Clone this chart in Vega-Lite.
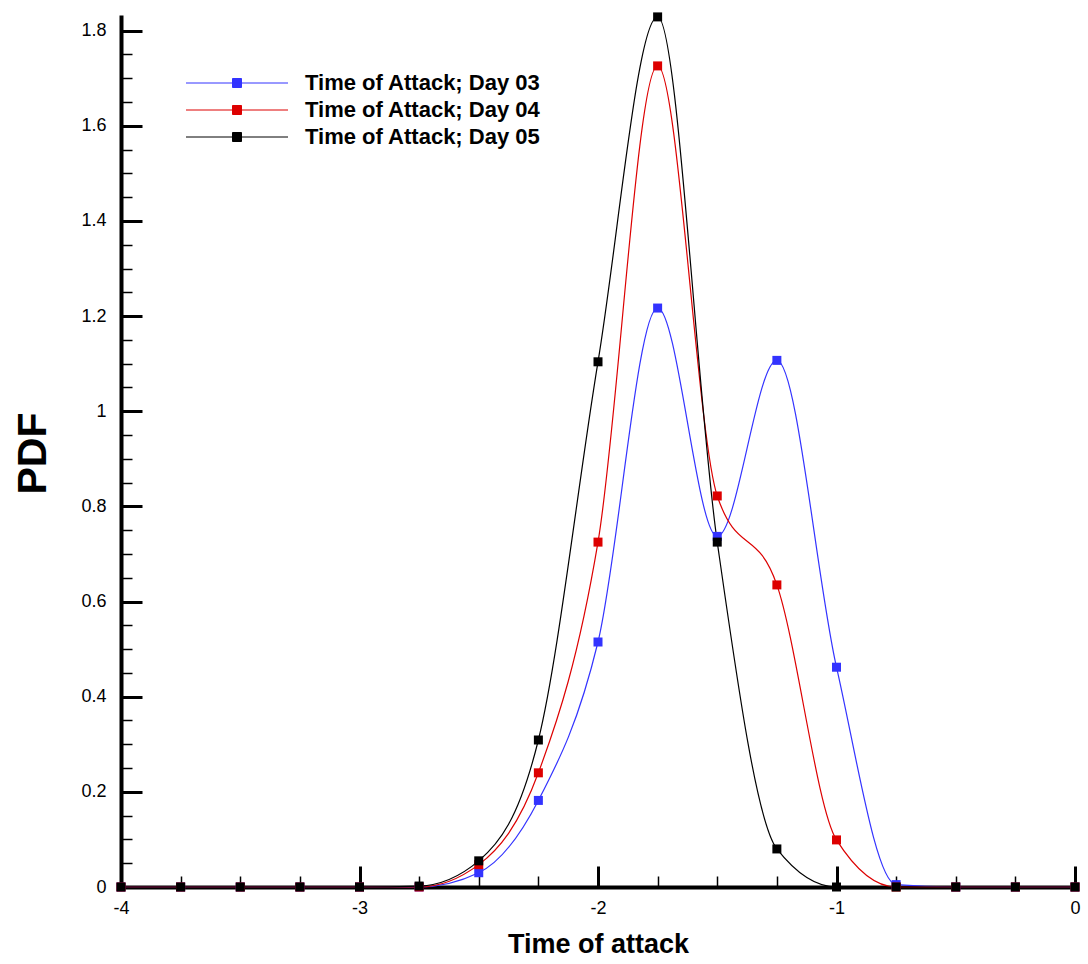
{
  "$schema": "https://vega.github.io/schema/vega-lite/v6.json",
  "width": 954,
  "height": 872,
  "autosize": {"type": "none"},
  "padding": {"left": 121, "top": 15, "right": 13, "bottom": 77},
  "background": "white",
  "config": {
    "view": {"stroke": null},
    "font": "Liberation Sans"
  },
  "data": {
    "values": [
      {"x": -4, "pdf": 0, "series": "Time of Attack; Day 03"},
      {"x": -3.75, "pdf": 0, "series": "Time of Attack; Day 03"},
      {"x": -3.5, "pdf": 0, "series": "Time of Attack; Day 03"},
      {"x": -3.25, "pdf": 0, "series": "Time of Attack; Day 03"},
      {"x": -3, "pdf": 0, "series": "Time of Attack; Day 03"},
      {"x": -2.75, "pdf": 0, "series": "Time of Attack; Day 03"},
      {"x": -2.5, "pdf": 0.03, "series": "Time of Attack; Day 03"},
      {"x": -2.25, "pdf": 0.182, "series": "Time of Attack; Day 03"},
      {"x": -2, "pdf": 0.515, "series": "Time of Attack; Day 03"},
      {"x": -1.75, "pdf": 1.217, "series": "Time of Attack; Day 03"},
      {"x": -1.5, "pdf": 0.737, "series": "Time of Attack; Day 03"},
      {"x": -1.25, "pdf": 1.107, "series": "Time of Attack; Day 03"},
      {"x": -1, "pdf": 0.462, "series": "Time of Attack; Day 03"},
      {"x": -0.75, "pdf": 0.005, "series": "Time of Attack; Day 03"},
      {"x": -0.5, "pdf": 0, "series": "Time of Attack; Day 03"},
      {"x": -0.25, "pdf": 0, "series": "Time of Attack; Day 03"},
      {"x": 0, "pdf": 0, "series": "Time of Attack; Day 03"},
      {"x": -4, "pdf": 0, "series": "Time of Attack; Day 04"},
      {"x": -3.75, "pdf": 0, "series": "Time of Attack; Day 04"},
      {"x": -3.5, "pdf": 0, "series": "Time of Attack; Day 04"},
      {"x": -3.25, "pdf": 0, "series": "Time of Attack; Day 04"},
      {"x": -3, "pdf": 0, "series": "Time of Attack; Day 04"},
      {"x": -2.75, "pdf": 0, "series": "Time of Attack; Day 04"},
      {"x": -2.5, "pdf": 0.047, "series": "Time of Attack; Day 04"},
      {"x": -2.25, "pdf": 0.24, "series": "Time of Attack; Day 04"},
      {"x": -2, "pdf": 0.725, "series": "Time of Attack; Day 04"},
      {"x": -1.75, "pdf": 1.726, "series": "Time of Attack; Day 04"},
      {"x": -1.5, "pdf": 0.822, "series": "Time of Attack; Day 04"},
      {"x": -1.25, "pdf": 0.635, "series": "Time of Attack; Day 04"},
      {"x": -1, "pdf": 0.099, "series": "Time of Attack; Day 04"},
      {"x": -0.75, "pdf": 0, "series": "Time of Attack; Day 04"},
      {"x": -0.5, "pdf": 0, "series": "Time of Attack; Day 04"},
      {"x": -0.25, "pdf": 0, "series": "Time of Attack; Day 04"},
      {"x": 0, "pdf": 0, "series": "Time of Attack; Day 04"},
      {"x": -4, "pdf": 0, "series": "Time of Attack; Day 05"},
      {"x": -3.75, "pdf": 0, "series": "Time of Attack; Day 05"},
      {"x": -3.5, "pdf": 0, "series": "Time of Attack; Day 05"},
      {"x": -3.25, "pdf": 0, "series": "Time of Attack; Day 05"},
      {"x": -3, "pdf": 0, "series": "Time of Attack; Day 05"},
      {"x": -2.75, "pdf": 0.002, "series": "Time of Attack; Day 05"},
      {"x": -2.5, "pdf": 0.055, "series": "Time of Attack; Day 05"},
      {"x": -2.25, "pdf": 0.309, "series": "Time of Attack; Day 05"},
      {"x": -2, "pdf": 1.104, "series": "Time of Attack; Day 05"},
      {"x": -1.75, "pdf": 1.829, "series": "Time of Attack; Day 05"},
      {"x": -1.5, "pdf": 0.725, "series": "Time of Attack; Day 05"},
      {"x": -1.25, "pdf": 0.08, "series": "Time of Attack; Day 05"},
      {"x": -1, "pdf": 0, "series": "Time of Attack; Day 05"},
      {"x": -0.75, "pdf": 0, "series": "Time of Attack; Day 05"},
      {"x": -0.5, "pdf": 0, "series": "Time of Attack; Day 05"},
      {"x": -0.25, "pdf": 0, "series": "Time of Attack; Day 05"},
      {"x": 0, "pdf": 0, "series": "Time of Attack; Day 05"}
    ]
  },
  "encoding": {
    "x": {
      "field": "x",
      "type": "quantitative",
      "scale": {"domain": [-4, 0], "nice": false, "zero": false},
      "axis": {
        "title": "Time of attack",
        "titleFontSize": 27,
        "titleFontWeight": "bold",
        "titleColor": "black",
        "titleY": 65,
        "titleBaseline": "alphabetic",
        "values": [-4, -3.75, -3.5, -3.25, -3, -2.75, -2.5, -2.25, -2, -1.75, -1.5, -1.25, -1, -0.75, -0.5, -0.25, 0],
        "labelExpr": "datum.value % 1 === 0 ? '' + datum.value : ''",
        "labelFontSize": 18,
        "labelColor": "black",
        "labelPadding": 33,
        "labelFlush": false,
        "labelOverlap": false,
        "domainColor": "black",
        "domainWidth": 4,
        "tickColor": "black",
        "tickSize": {"condition": {"test": "datum.value % 1 === 0", "value": -21}, "value": -11},
        "tickWidth": {"condition": {"test": "datum.value % 1 === 0", "value": 3}, "value": 1.5},
        "grid": false
      }
    },
    "y": {
      "field": "pdf",
      "type": "quantitative",
      "scale": {"domain": [0, 1.833], "nice": false},
      "axis": {
        "title": "PDF",
        "titleFontSize": 41,
        "titleFontWeight": "bold",
        "titleColor": "black",
        "titleX": -76,
        "titleY": 438,
        "titleAngle": -90,
        "titleAlign": "center",
        "titleBaseline": "alphabetic",
        "values": [0, 0.05, 0.1, 0.15, 0.2, 0.25, 0.3, 0.35, 0.4, 0.45, 0.5, 0.55, 0.6, 0.65, 0.7, 0.75, 0.8, 0.85, 0.9, 0.95, 1, 1.05, 1.1, 1.15, 1.2, 1.25, 1.3, 1.35, 1.4, 1.45, 1.5, 1.55, 1.6, 1.65, 1.7, 1.75, 1.8],
        "labelExpr": "abs(datum.value * 5 - round(datum.value * 5)) < 0.000001 ? format(datum.value, '~g') : ''",
        "labelFontSize": 18,
        "labelColor": "black",
        "labelPadding": 36,
        "labelFlush": false,
        "labelOverlap": false,
        "domainColor": "black",
        "domainWidth": 4,
        "tickColor": "black",
        "tickSize": {"condition": {"test": "abs(datum.value * 5 - round(datum.value * 5)) < 0.000001", "value": -21}, "value": -11},
        "tickWidth": {"condition": {"test": "abs(datum.value * 5 - round(datum.value * 5)) < 0.000001", "value": 3}, "value": 1.5},
        "grid": false
      }
    },
    "color": {
      "field": "series",
      "type": "nominal",
      "scale": {
        "domain": ["Time of Attack; Day 03", "Time of Attack; Day 04", "Time of Attack; Day 05"],
        "range": ["#3333ff", "#dd0000", "#000000"]
      },
      "legend": {
        "title": null,
        "orient": "none",
        "legendX": 105,
        "legendY": 57,
        "padding": 0,
        "symbolType": "M-5.1,0H5.1M-0.45,-0.45H0.45V0.45H-0.45Z",
        "symbolSize": 400,
        "symbolStrokeWidth": 1,
        "labelFontSize": 22,
        "labelFontWeight": "bold",
        "labelColor": "black",
        "labelOffset": 57,
        "rowPadding": 5,
        "labelLimit": 400,
        "encode": {
          "symbols": {
            "update": {
              "fill": {"scale": "color", "field": "value"},
              "stroke": {"scale": "color", "field": "value"},
              "opacity": {"value": 1}
            }
          }
        }
      }
    }
  },
  "layer": [
    {
      "mark": {"type": "line", "interpolate": "monotone", "strokeWidth": 1.2}
    },
    {
      "mark": {"type": "point", "shape": "square", "filled": true, "size": 81, "opacity": 1}
    }
  ]
}
